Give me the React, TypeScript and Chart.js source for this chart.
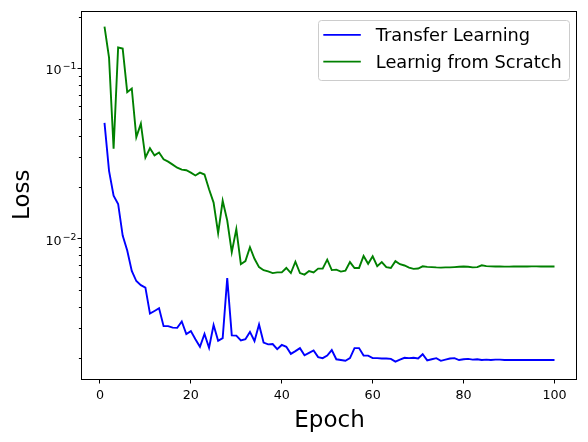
import React, { useEffect, useRef } from "react";
import { Chart, registerables } from "chart.js";

Chart.register(...registerables);

const epochs: number[] = Array.from({ length: 100 }, (_, i) => i + 1);

const transferLoss: number[] = [
  0.0478, 0.0250, 0.0179, 0.0160, 0.01045, 0.00855, 0.00648, 0.00566, 0.00535, 0.00518,
  0.00365, 0.00378, 0.00392, 0.00308, 0.00308, 0.00302, 0.00301, 0.00328, 0.00277, 0.00288,
  0.00258, 0.00233, 0.00277, 0.00230, 0.00313, 0.00253, 0.00262, 0.00589, 0.00272, 0.00271,
  0.00254, 0.00258, 0.00285, 0.00252, 0.00315, 0.00247, 0.00241, 0.00242, 0.00226, 0.00239,
  0.00233, 0.00212, 0.00220, 0.00229, 0.00208, 0.00215, 0.00222, 0.00203, 0.00200, 0.00207,
  0.00223, 0.00197, 0.00195, 0.00193, 0.00200, 0.00229, 0.00229, 0.00207, 0.00207, 0.00200,
  0.00200, 0.00199, 0.00199, 0.00198, 0.00191, 0.00196, 0.00201, 0.00200, 0.00201, 0.00199,
  0.00211, 0.00194, 0.00197, 0.00200, 0.00193, 0.00196, 0.00199, 0.00200, 0.00195, 0.00197,
  0.00198, 0.00196, 0.00197, 0.00195, 0.00196, 0.00195, 0.00196, 0.00196, 0.00195, 0.00195,
  0.00195, 0.00195, 0.00195, 0.00195, 0.00195, 0.00195, 0.00195, 0.00195, 0.00195, 0.00195,
];

const scratchLoss: number[] = [
  0.175, 0.115, 0.0337, 0.132, 0.130, 0.0722, 0.0759, 0.0394, 0.0472, 0.0299,
  0.0339, 0.0308, 0.0320, 0.0292, 0.0283, 0.0272, 0.0261, 0.0254, 0.0252, 0.0244,
  0.0235, 0.0244, 0.0238, 0.0195, 0.0163, 0.0108, 0.0167, 0.0128, 0.00836, 0.0114,
  0.00710, 0.00740, 0.00893, 0.00764, 0.00683, 0.00655, 0.00644, 0.00630, 0.00636, 0.00636,
  0.00675, 0.00630, 0.00734, 0.00630, 0.00617, 0.00647, 0.00636, 0.00669, 0.00669, 0.00755,
  0.00656, 0.00660, 0.00643, 0.00650, 0.00731, 0.00675, 0.00675, 0.00793, 0.00714, 0.00790,
  0.00692, 0.00731, 0.00683, 0.00675, 0.00740, 0.00710, 0.00698, 0.00678, 0.00667, 0.00670,
  0.00690, 0.00685, 0.00683, 0.00680, 0.00678, 0.00680, 0.00680, 0.00683, 0.00686, 0.00688,
  0.00686, 0.00680, 0.00683, 0.00700, 0.00692, 0.00690, 0.00689, 0.00688, 0.00687, 0.00687,
  0.00688, 0.00688, 0.00689, 0.00689, 0.00690, 0.00690, 0.00689, 0.00689, 0.00688, 0.00688,
];

const seriesLabels: string[] = ["Transfer Learning", "Learnig from Scratch"];
const seriesColors: string[] = ["#0000ff", "#008000"];

const xTicks: number[] = [0, 20, 40, 60, 80, 100];
const yMajorTicks: number[] = [0.01, 0.1];
const yMajorBase: string = "10";
const yMajorExponents: string[] = ["\u22122", "\u22121"];
const yMinorTicks: number[] = [
  0.002, 0.003, 0.004, 0.005, 0.006, 0.007, 0.008, 0.009,
  0.02, 0.03, 0.04, 0.05, 0.06, 0.07, 0.08, 0.09, 0.2,
];

const FONT = "'DejaVu Sans', sans-serif";

function majorIndex(v: number): number {
  for (let i = 0; i < yMajorTicks.length; i++) {
    if (Math.abs(Math.log10(v) - Math.log10(yMajorTicks[i])) < 1e-6) return i;
  }
  return -1;
}

const framePlugin = {
  id: "mplFrame",
  afterDatasetsDraw(chart: any) {
    const { ctx, chartArea } = chart;
    ctx.save();
    ctx.strokeStyle = "#000";
    ctx.lineWidth = 1;
    const l = Math.round(chartArea.left) - 0.5;
    const t = Math.round(chartArea.top) + 0.5;
    const r = Math.round(chartArea.right) - 0.5;
    const b = Math.round(chartArea.bottom) + 0.5;
    ctx.strokeRect(l, t, r - l, b - t);
    const ys = chart.scales.y;
    ctx.beginPath();
    for (const v of yMinorTicks) {
      const py = Math.round(ys.getPixelForValue(v)) + 0.5;
      if (py < chartArea.top || py > chartArea.bottom) continue;
      ctx.moveTo(l - 2.6, py);
      ctx.lineTo(l, py);
    }
    ctx.stroke();

    // major y tick labels as base + superscript exponent
    const baseSize = 12.7;
    const supSize = 9.3;
    const rightEdge = chartArea.left - 5.5;
    yMajorTicks.forEach((v, i) => {
      const py = ys.getPixelForValue(v);
      ctx.fillStyle = "#000";
      ctx.textBaseline = "alphabetic";
      ctx.textAlign = "left";
      ctx.font = `${supSize}px ${FONT}`;
      const supW = ctx.measureText(yMajorExponents[i]).width;
      ctx.font = `${baseSize}px ${FONT}`;
      const baseW = ctx.measureText(yMajorBase).width;
      const gap = 1.2;
      const x0 = rightEdge - supW - gap - baseW;
      ctx.fillText(yMajorBase, x0, py + 6.4);
      ctx.font = `${supSize}px ${FONT}`;
      ctx.fillText(yMajorExponents[i], x0 + baseW + gap, py + 1.3);
    });
    ctx.restore();
  },
};

const legendPlugin = {
  id: "mplLegend",
  afterDraw(chart: any) {
    const { ctx, chartArea } = chart;
    const fs = 17.8;
    ctx.save();
    ctx.font = `${fs}px ${FONT}`;
    const datasets = chart.data.datasets;
    const tw = Math.max(...datasets.map((d: any) => ctx.measureText(d.label).width));
    const padL = 5, handle = 37.5, gap = 15, padR = 7.6;
    const w = padL + handle + gap + tw + padR;
    const h = 60;
    const right = chartArea.right - 7.7;
    const left = right - w;
    const top = chartArea.top + 9.3;
    ctx.beginPath();
    if (ctx.roundRect) ctx.roundRect(Math.round(left) + 0.5, Math.round(top) + 0.5, w, h, 3);
    else ctx.rect(Math.round(left) + 0.5, Math.round(top) + 0.5, w, h);
    ctx.fillStyle = "rgba(255,255,255,0.8)";
    ctx.fill();
    ctx.strokeStyle = "#cccccc";
    ctx.lineWidth = 1;
    ctx.stroke();
    datasets.forEach((d: any, i: number) => {
      const cy = top + 15 + i * 26.7;
      ctx.beginPath();
      ctx.strokeStyle = d.borderColor;
      ctx.lineWidth = 1.9;
      ctx.moveTo(left + padL, cy);
      ctx.lineTo(left + padL + handle, cy);
      ctx.stroke();
      ctx.fillStyle = "#000";
      ctx.textBaseline = "alphabetic";
      ctx.textAlign = "left";
      ctx.fillText(d.label, left + padL + handle + gap, cy + 6.5);
    });
    ctx.restore();
  },
};

export default function App() {
  const canvasRef = useRef<HTMLCanvasElement | null>(null);

  useEffect(() => {
    const canvas = canvasRef.current;
    if (!canvas) return;
    Chart.defaults.font.family = FONT;
    Chart.defaults.color = "#000";

    const chart = new Chart(canvas, {
      type: "line",
      data: {
        datasets: [
          {
            label: seriesLabels[0],
            data: epochs.map((e, i) => ({ x: e, y: transferLoss[i] })),
            borderColor: seriesColors[0],
            backgroundColor: seriesColors[0],
            borderWidth: 1.9,
            pointRadius: 0,
            tension: 0,
            fill: false,
          },
          {
            label: seriesLabels[1],
            data: epochs.map((e, i) => ({ x: e, y: scratchLoss[i] })),
            borderColor: seriesColors[1],
            backgroundColor: seriesColors[1],
            borderWidth: 1.9,
            pointRadius: 0,
            tension: 0,
            fill: false,
          },
        ],
      },
      options: {
        animation: false,
        responsive: false,
        maintainAspectRatio: false,
        devicePixelRatio: 1,
        layout: { padding: { left: 0, top: 9, right: 11, bottom: 0 } },
        plugins: {
          legend: { display: false },
          tooltip: { enabled: false },
        },
        scales: {
          x: {
            type: "linear",
            min: -3.95,
            max: 104.95,
            afterBuildTicks: (s: any) => {
              s.ticks = xTicks.map((v) => ({ value: v }));
            },
            afterFit: (s: any) => {
              s.height = 63;
            },
            ticks: {
              autoSkip: false,
              maxRotation: 0,
              padding: 5,
              color: "#000",
              font: { size: 12.7, family: FONT },
              callback: (v: any) => String(v),
            },
            grid: {
              display: true,
              drawOnChartArea: false,
              tickLength: 4.5,
              tickColor: "#000",
              tickWidth: 1,
            },
            border: { display: false },
            title: {
              display: true,
              text: "Epoch",
              color: "#000",
              font: { size: 23, family: FONT },
              padding: { top: 0, bottom: 7 },
            },
          },
          y: {
            type: "logarithmic",
            min: 0.00151,
            max: 0.217,
            afterBuildTicks: (s: any) => {
              s.ticks = [...yMinorTicks, ...yMajorTicks]
                .sort((a, b) => a - b)
                .map((v) => ({ value: v }));
            },
            afterFit: (s: any) => {
              s.width = 82;
            },
            ticks: {
              autoSkip: false,
              padding: 3,
              color: "#000",
              font: { size: 12.7, family: FONT },
              callback: () => "",
            },
            grid: {
              display: true,
              drawOnChartArea: false,
              tickLength: 4.5,
              tickWidth: 1,
              tickColor: (ctx: any) =>
                ctx.tick && majorIndex(ctx.tick.value) >= 0 ? "#000" : "rgba(0,0,0,0)",
            },
            border: { display: false },
            title: {
              display: true,
              text: "Loss",
              color: "#000",
              font: { size: 23, family: FONT },
              padding: { top: 9, bottom: 0 },
            },
          },
        },
      },
      plugins: [framePlugin, legendPlugin],
    } as any);

    return () => {
      chart.destroy();
    };
  }, []);

  return (
    <div
      style={{
        position: "fixed",
        left: 0,
        top: 0,
        width: 588,
        height: 442,
        background: "#fff",
      }}
    >
      <canvas ref={canvasRef} width={588} height={442} style={{ width: 588, height: 442 }} />
    </div>
  );
}
